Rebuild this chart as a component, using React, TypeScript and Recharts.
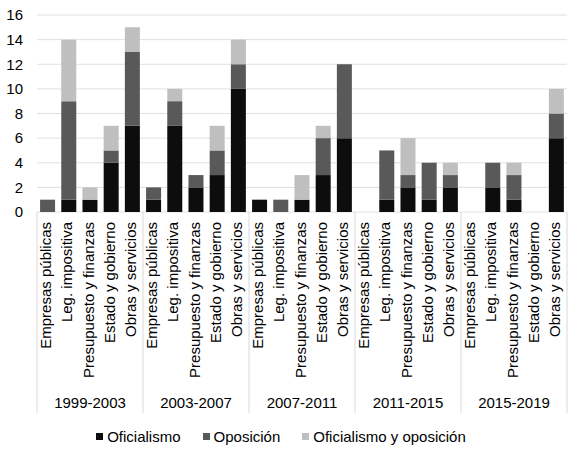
import React from "react";
import { BarChart, Bar, XAxis, YAxis, CartesianGrid, Legend } from "recharts";

const periods = ["1999-2003", "2003-2007", "2007-2011", "2011-2015", "2015-2019"];
const categories = [
  "Empresas públicas",
  "Leg. impositiva",
  "Presupuesto y finanzas",
  "Estado y gobierno",
  "Obras y servicios",
];
// values per period, in category order
const oficialismo = [
  [0, 1, 1, 4, 7],
  [1, 7, 2, 3, 10],
  [1, 0, 1, 3, 6],
  [0, 1, 2, 1, 2],
  [0, 2, 1, 0, 6],
];
const oposicion = [
  [1, 8, 0, 1, 6],
  [1, 2, 1, 2, 2],
  [0, 1, 0, 3, 6],
  [0, 4, 1, 3, 1],
  [0, 2, 2, 0, 2],
];
const ambos = [
  [0, 5, 1, 2, 2],
  [0, 1, 0, 2, 2],
  [0, 0, 2, 1, 0],
  [0, 0, 3, 0, 1],
  [0, 0, 1, 0, 2],
];
const yTicks = [0, 2, 4, 6, 8, 10, 12, 14, 16];

const seriesNames = ["Oficialismo", "Oposición", "Oficialismo y oposición"];
const seriesColors = ["#0d0d0d", "#595959", "#bfbfbf"];

const data = periods.flatMap((p, pi) =>
  categories.map((c, ci) => ({
    period: p,
    category: c,
    of: oficialismo[pi][ci],
    op: oposicion[pi][ci],
    am: ambos[pi][ci],
  }))
);

const FONT = "'Liberation Sans', Arial, sans-serif";
const SEP = "#d9d9d9";

const CategoryTick = (props: any) => {
  const { x, y, payload, index } = props;
  const half = payload && typeof payload.offset === "number" && payload.offset > 0 ? payload.offset : 10.6;
  const i = typeof index === "number" ? index : payload.index;
  return (
    <g>
      <text
        transform={`translate(${x + 3.5},${y + 10}) rotate(-90)`}
        textAnchor="end"
        fontFamily={FONT}
        fontSize={15}
        fill="#000"
      >
        {payload.value}
      </text>
      {i % 5 === 0 && (
        <line x1={x - half} x2={x - half} y1={y} y2={y + 201} stroke={SEP} strokeWidth={1} />
      )}
      {i === data.length - 1 && (
        <line x1={x + half} x2={x + half} y1={y} y2={y + 201} stroke={SEP} strokeWidth={1} />
      )}
    </g>
  );
};

const PeriodTick = (props: any) => {
  const { x, y, payload, index } = props;
  const i = typeof index === "number" ? index : payload.index;
  if (i % 5 !== 2) return <g />;
  return (
    <text x={x} y={y + 13} textAnchor="middle" fontFamily={FONT} fontSize={15} fill="#000">
      {payload.value}
    </text>
  );
};

const LegendContent = () => {
  return (
    <div
      style={{
        height: 39,
        display: "flex",
        justifyContent: "center",
        alignItems: "center",
        fontFamily: FONT,
        fontSize: 15,
        color: "#000",
        paddingRight: 5,
        paddingBottom: 6,
        boxSizing: "border-box",
      }}
    >
      {seriesNames.map((name, k) => (
        <div key={k} style={{ display: "flex", alignItems: "center", marginRight: k < seriesNames.length - 1 ? 22 : 0 }}>
          <span style={{ display: "inline-block", width: 7, height: 7, background: seriesColors[k], marginRight: 4 }} />
          <span>{name}</span>
        </div>
      ))}
    </div>
  );
};

export default function App() {
  return (
    <div style={{ position: "absolute", left: 0, top: 0, width: 580, height: 459, background: "#fff" }}>
      <BarChart
        width={580}
        height={459}
        data={data}
        margin={{ top: 15, right: 13, left: 0, bottom: 0 }}
        barCategoryGap="14.5%"
      >
        <CartesianGrid vertical={false} stroke="#e0e0e0" strokeWidth={1} />
        <XAxis
          xAxisId="cat"
          dataKey="category"
          interval={0}
          height={183}
          axisLine={false}
          tickLine={false}
          tickSize={0}
          tickMargin={0}
          tick={<CategoryTick />}
        />
        <XAxis
          xAxisId="per"
          dataKey="period"
          interval={0}
          height={25}
          axisLine={false}
          tickLine={false}
          tickSize={0}
          tickMargin={0}
          tick={<PeriodTick />}
        />
        <YAxis
          width={37}
          domain={[0, 16]}
          ticks={yTicks}
          interval={0}
          axisLine={false}
          tickLine={false}
          tickSize={6}
          tickMargin={8}
          tick={{ fontFamily: FONT, fontSize: 15, fill: "#000" }}
        />
        <Legend verticalAlign="bottom" height={39} content={<LegendContent />} />
        <Bar xAxisId="cat" dataKey="of" name={seriesNames[0]} stackId="s" fill={seriesColors[0]} isAnimationActive={false} />
        <Bar xAxisId="cat" dataKey="op" name={seriesNames[1]} stackId="s" fill={seriesColors[1]} isAnimationActive={false} />
        <Bar xAxisId="cat" dataKey="am" name={seriesNames[2]} stackId="s" fill={seriesColors[2]} isAnimationActive={false} />
      </BarChart>
    </div>
  );
}
